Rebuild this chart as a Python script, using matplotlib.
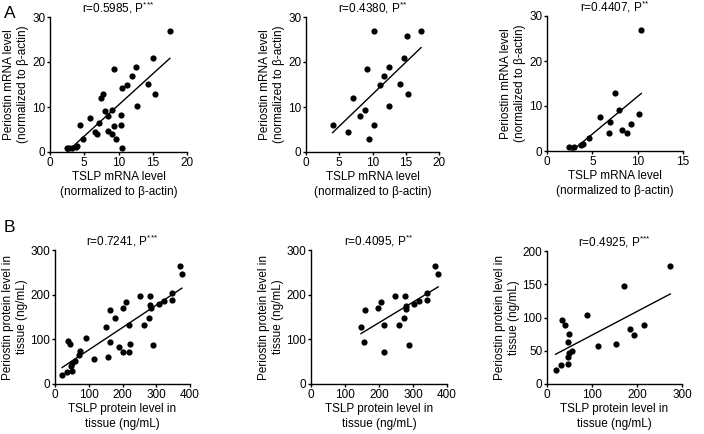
'''
Correlation scatter plots: TSLP vs Periostin (panels A and B).
Output: out.png
'''

import matplotlib
matplotlib.use('Agg')
import matplotlib.pyplot as plt
import numpy as np

plt.rcParams['font.family'] = ['Liberation Sans', 'DejaVu Sans']
plt.rcParams['mathtext.fontset'] = 'custom'
plt.rcParams['mathtext.rm'] = 'Liberation Sans'

# Panel A - mRNA levels
a1_x = [17.5, 15.0, 9.3, 12.6, 11.9, 11.3, 10.5, 14.3, 15.3, 7.7, 7.4, 12.7, 8.1, 9.1, 8.4,
        10.4, 5.9, 7.1, 4.4, 9.4, 10.4, 6.6, 6.9, 8.5, 9.0, 9.6, 4.8, 4.0, 3.8, 2.5, 2.8, 3.2, 10.5]
a1_y = [26.8, 20.9, 18.5, 19.0, 17.0, 15.0, 14.3, 15.1, 12.9, 12.9, 12.0, 10.3, 9.1, 9.3, 7.9,
        8.2, 7.6, 6.5, 5.9, 5.8, 5.9, 4.4, 3.9, 4.6, 4.0, 3.0, 3.0, 1.4, 1.2, 1.0, 1.0, 1.0, 1.0]

a2_x = [17.3, 10.2, 15.2, 14.8, 9.1, 12.5, 11.7, 11.1, 14.2, 15.3, 7.1, 12.5, 8.8, 8.1, 4.0,
        10.2, 6.3, 9.4]
a2_y = [26.8, 26.8, 25.7, 20.9, 18.5, 19.0, 16.9, 15.0, 15.1, 12.9, 11.9, 10.2, 9.4, 7.9, 5.9,
        5.9, 4.4, 3.0]

a3_x = [10.4, 7.5, 7.9, 5.8, 6.9, 10.2, 9.3, 8.3, 8.8, 6.8, 4.6, 4.0, 3.7, 3.0, 2.4]
a3_y = [26.8, 13.0, 9.1, 7.6, 6.5, 8.3, 5.9, 4.7, 4.1, 3.9, 2.9, 1.5, 1.3, 1.0, 1.0]

# Panel B - protein levels in tissue
b1_x = [370, 376, 346, 346, 322, 309, 280, 283, 281, 279, 252, 263, 210, 201, 162, 179, 220,
        150, 162, 190, 200, 221, 220, 291, 158, 117, 93, 39, 45, 74, 71, 60, 50, 50, 48, 35, 21]
b1_y = [265, 247, 204, 189, 185, 178, 176, 170, 198, 147, 197, 131, 184, 170, 165, 147, 131,
        127, 94, 82, 71, 89, 71, 88, 60, 56, 103, 97, 89, 74, 64, 51, 47, 29, 40, 27, 21]

b2_x = [366, 374, 340, 340, 317, 304, 278, 278, 276, 273, 248, 258, 205, 198, 158, 216, 147,
        157, 214, 287]
b2_y = [265, 247, 204, 189, 185, 178, 175, 169, 197, 147, 197, 131, 184, 170, 165, 131, 127,
        94, 71, 88]

b3_x = [274, 172, 88, 34, 41, 48, 46, 56, 49, 47, 47, 30, 19, 113, 153, 184, 194, 216]
b3_y = [177, 147, 104, 96, 89, 75, 63, 49, 46, 40, 30, 28, 21, 57, 60, 83, 73, 89]

r_vals = ['0.5985', '0.4380', '0.4407', '0.7241', '0.4095', '0.4925']
stars = ['***', '**', '**', '***', '**', '***']

W, H = 704, 434
fig = plt.figure(figsize=(W / 100, H / 100), dpi=100)


def px_axes(left, right, top, bottom):
    return fig.add_axes([left / W, 1 - bottom / H, (right - left) / W, (bottom - top) / H])


def panel(ax, x, y, i, xlim, ylim, xticks, yticks, xlabel, ylabel):
    x = np.array(x)
    y = np.array(y)
    ax.scatter(x, y, s=20, color='black', zorder=3, clip_on=False, linewidths=0)
    k, b = np.polyfit(x, y, 1)
    xs = np.array([x.min(), x.max()])
    ax.plot(xs, k * xs + b, color='black', lw=1)
    ax.set_xlim(xlim)
    ax.set_ylim(ylim)
    ax.set_xticks(xticks)
    ax.set_yticks(yticks)
    for s in ['top', 'right']:
        ax.spines[s].set_visible(False)
    for s in ['left', 'bottom']:
        ax.spines[s].set_linewidth(1)
    ax.tick_params(direction='out', length=2.5, width=1, labelsize=8.5, pad=0.8)
    st = ''.join('{*}' for _ in stars[i])
    ax.set_title('r=%s, P$^{%s}$' % (r_vals[i], st), fontsize=8.5, pad=3)
    ax.set_xlabel(xlabel, fontsize=8.5, labelpad=2, linespacing=1.25)
    ax.set_ylabel(ylabel, fontsize=8.5, labelpad=2, linespacing=1.25)


mx = 'TSLP mRNA level\n(normalized to β-actin)'
my = 'Periostin mRNA level\n(normalized to β-actin)'
px = 'TSLP protein level in\ntissue (ng/mL)'
py = 'Periostin protein level in\ntissue (ng/mL)'

ax = px_axes(50, 187, 17, 152)
panel(ax, a1_x, a1_y, 0, (0, 20), (0, 30), [0, 5, 10, 15, 20], [0, 10, 20, 30], mx, my)
ax = px_axes(306, 439, 17, 152)
panel(ax, a2_x, a2_y, 1, (0, 20), (0, 30), [0, 5, 10, 15, 20], [0, 10, 20, 30], mx, my)
ax = px_axes(547, 683, 16, 151)
panel(ax, a3_x, a3_y, 2, (0, 15), (0, 30), [0, 5, 10, 15], [0, 10, 20, 30], mx, my)

ax = px_axes(55, 190, 250, 384)
panel(ax, b1_x, b1_y, 3, (0, 400), (0, 300), [0, 100, 200, 300, 400], [0, 100, 200, 300], px, py)
ax = px_axes(311, 447, 250, 384)
panel(ax, b2_x, b2_y, 4, (0, 400), (0, 300), [0, 100, 200, 300, 400], [0, 100, 200, 300], px, py)
ax = px_axes(547, 682, 251, 384)
panel(ax, b3_x, b3_y, 5, (0, 300), (0, 200), [0, 100, 200, 300], [0, 50, 100, 150, 200], px, py)

fig.text(4 / W, 1 - 14 / H, 'A', fontsize=12.5, va='center', ha='left')
fig.text(4 / W, 1 - 227 / H, 'B', fontsize=12.5, va='center', ha='left')

plt.savefig('out.png', dpi=100)
